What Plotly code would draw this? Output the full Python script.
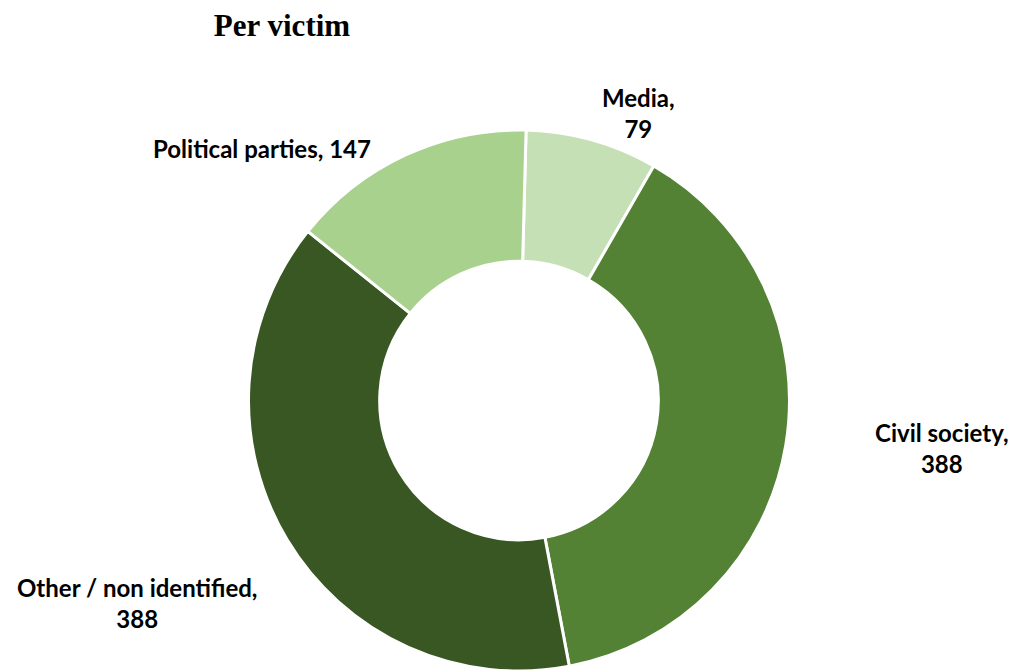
import plotly.graph_objects as go

# Victims by category (clockwise from 12 o'clock)
categories = ["Media", "Civil society", "Other / non identified", "Political parties"]
values = [79, 388, 388, 147]
colors = ["#C5E0B4", "#548235", "#385723", "#A9D18E"]

W, H = 1013, 671

# Label placement (pixel centres) and whether the value goes on its own line
label_pos = [(638, 113), (942, 448), (137, 603), (262, 148)]
label_wrap = [True, True, True, False]

fig = go.Figure(
    go.Pie(
        labels=categories,
        values=values,
        marker=dict(colors=colors, line=dict(color="white", width=3)),
        hole=0.515,
        sort=False,
        direction="clockwise",
        rotation=1.5,
        textinfo="none",
        hoverinfo="label+value",
        domain=dict(x=[248 / W, 790 / W], y=[0, (H - 130) / H]),
        showlegend=False,
    )
)

annotations = []
for cat, val, (px, py), wrap in zip(categories, values, label_pos, label_wrap):
    sep = ",<br>" if wrap else ", "
    annotations.append(
        dict(
            text=f"{cat}{sep}{val}",
            x=px / W,
            y=1 - py / H,
            xref="paper",
            yref="paper",
            xanchor="center",
            yanchor="middle",
            showarrow=False,
            align="center",
            font=dict(family="Lato", size=24, color="black", weight="bold"),
        )
    )

fig.update_layout(
    width=W,
    height=H,
    margin=dict(l=0, r=0, t=0, b=0),
    paper_bgcolor="white",
    plot_bgcolor="white",
    title=dict(
        text="<b>Per victim</b>",
        x=282 / W,
        xanchor="center",
        y=1 - 25 / H,
        yanchor="middle",
        font=dict(family="Liberation Serif", size=31, color="black"),
    ),
    annotations=annotations,
)

fig.write_html("out.html")
